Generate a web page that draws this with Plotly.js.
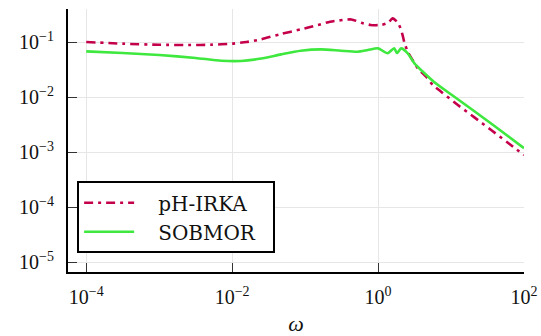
<!DOCTYPE html>
<html>
<head>
<meta charset="utf-8">
<script src="https://cdn.plot.ly/plotly-3.0.1.min.js"></script>
<style>html,body{margin:0;padding:0;background:#fff;}#plot{width:541px;height:336px;}</style>
</head>
<body>
<div id="plot"></div>
<script>
// pH-IRKA
var omegaIRKA = [1e-4, 3.16e-4, 1e-3, 2.7e-3, 5e-3, 1e-2, 1.58e-2, 2.5e-2, 4.7e-2, 8.7e-2, 0.15, 0.22, 0.43, 0.59, 0.79, 1.1, 1.38, 1.58, 1.86, 2.07, 2.19, 2.29, 2.55, 3.51, 4.55, 5.62, 7.31, 12.4, 20.9, 35.5, 60.1, 100];
var magIRKA = [0.1, 0.0933, 0.0891, 0.0881, 0.0891, 0.0933, 0.1, 0.112, 0.140, 0.170, 0.204, 0.234, 0.257, 0.224, 0.204, 0.204, 0.224, 0.269, 0.226, 0.166, 0.126, 0.0985, 0.0667, 0.0332, 0.0234, 0.0166, 0.0125, 0.00716, 0.00427, 0.00251, 0.00148, 0.000881];
// SOBMOR
var omegaSOB = [1e-4, 3.16e-4, 1e-3, 3.16e-3, 7.08e-3, 1.32e-2, 2.51e-2, 4.68e-2, 8.71e-2, 0.166, 0.309, 0.525, 0.724, 1.0, 1.35, 1.66, 1.82, 2.07, 2.55, 3.15, 5.92, 11.1, 20.9, 39.4, 100];
var magSOB = [0.0676, 0.0631, 0.0581, 0.0513, 0.0457, 0.0452, 0.0501, 0.0596, 0.0695, 0.0736, 0.0695, 0.0667, 0.0716, 0.0767, 0.0624, 0.0767, 0.0631, 0.0767, 0.0622, 0.041, 0.0185, 0.0101, 0.0055, 0.00298, 0.00118];

var seriesNames = ['pH-IRKA', 'SOBMOR'];
var xTickVals = [1e-4, 1e-2, 1, 100];
var xTickText = ['10<sup>\u22124</sup>', '10<sup>\u22122</sup>', '10<sup>0</sup>', '10<sup>2</sup>'];
var yTickVals = [1e-5, 1e-4, 1e-3, 1e-2, 1e-1];
var yTickText = ['10<sup>\u22125</sup>', '10<sup>\u22124</sup>', '10<sup>\u22123</sup>', '10<sup>\u22122</sup>', '10<sup>\u22121</sup>'];

var font = 'Liberation Serif, DejaVu Serif, serif';
var pad = '\u00a0\u00a0\u00a0';
var tail = '\u00a0\u00a0';

var traces = [
  {x: omegaIRKA, y: magIRKA, name: pad + seriesNames[0] + tail, mode: 'lines', type: 'scatter',
   line: {color: '#c4004a', width: 2.6, dash: '9px,5px,3px,5px', shape: 'spline', smoothing: 0.6}},
  {x: omegaSOB, y: magSOB, name: pad + seriesNames[1] + tail, mode: 'lines', type: 'scatter',
   line: {color: '#3ee83e', width: 2.6, shape: 'spline', smoothing: 0.6}}
];

var layout = {
  width: 541, height: 336,
  margin: {l: 68, r: 17, t: 9, b: 64},
  paper_bgcolor: '#fff', plot_bgcolor: '#fff',
  font: {family: font, size: 20, color: '#111'},
  showlegend: true,
  legend: {x: 0.02, y: 0.345, xanchor: 'left', yanchor: 'top',
    bordercolor: '#000', borderwidth: 2, bgcolor: '#fff',
    font: {family: 'DejaVu Serif, serif', size: 20, color: '#111'}, itemwidth: 50},
  xaxis: {type: 'log', range: [-4.25, 2.0], tickvals: xTickVals, ticktext: xTickText,
    showline: true, linecolor: '#000', linewidth: 2, mirror: false,
    ticks: 'inside', ticklen: 9, tickcolor: '#333', tickwidth: 1,
    showgrid: true, gridcolor: '#e6e6e6', gridwidth: 1, zeroline: false,
    ticklabelstandoff: 6,
    title: {text: '<i>ω</i>', font: {family: font, size: 22, color: '#111'}, standoff: 10}},
  yaxis: {type: 'log', range: [-5.18, -0.4], tickvals: yTickVals, ticktext: yTickText,
    showline: true, linecolor: '#000', linewidth: 2, mirror: false,
    ticks: 'inside', ticklen: 9, tickcolor: '#333', tickwidth: 1,
    showgrid: true, gridcolor: '#e6e6e6', gridwidth: 1, zeroline: false,
    ticklabelstandoff: 8}
};

Plotly.newPlot('plot', traces, layout, {staticPlot: true, displayModeBar: false});
</script>
</body>
</html>
